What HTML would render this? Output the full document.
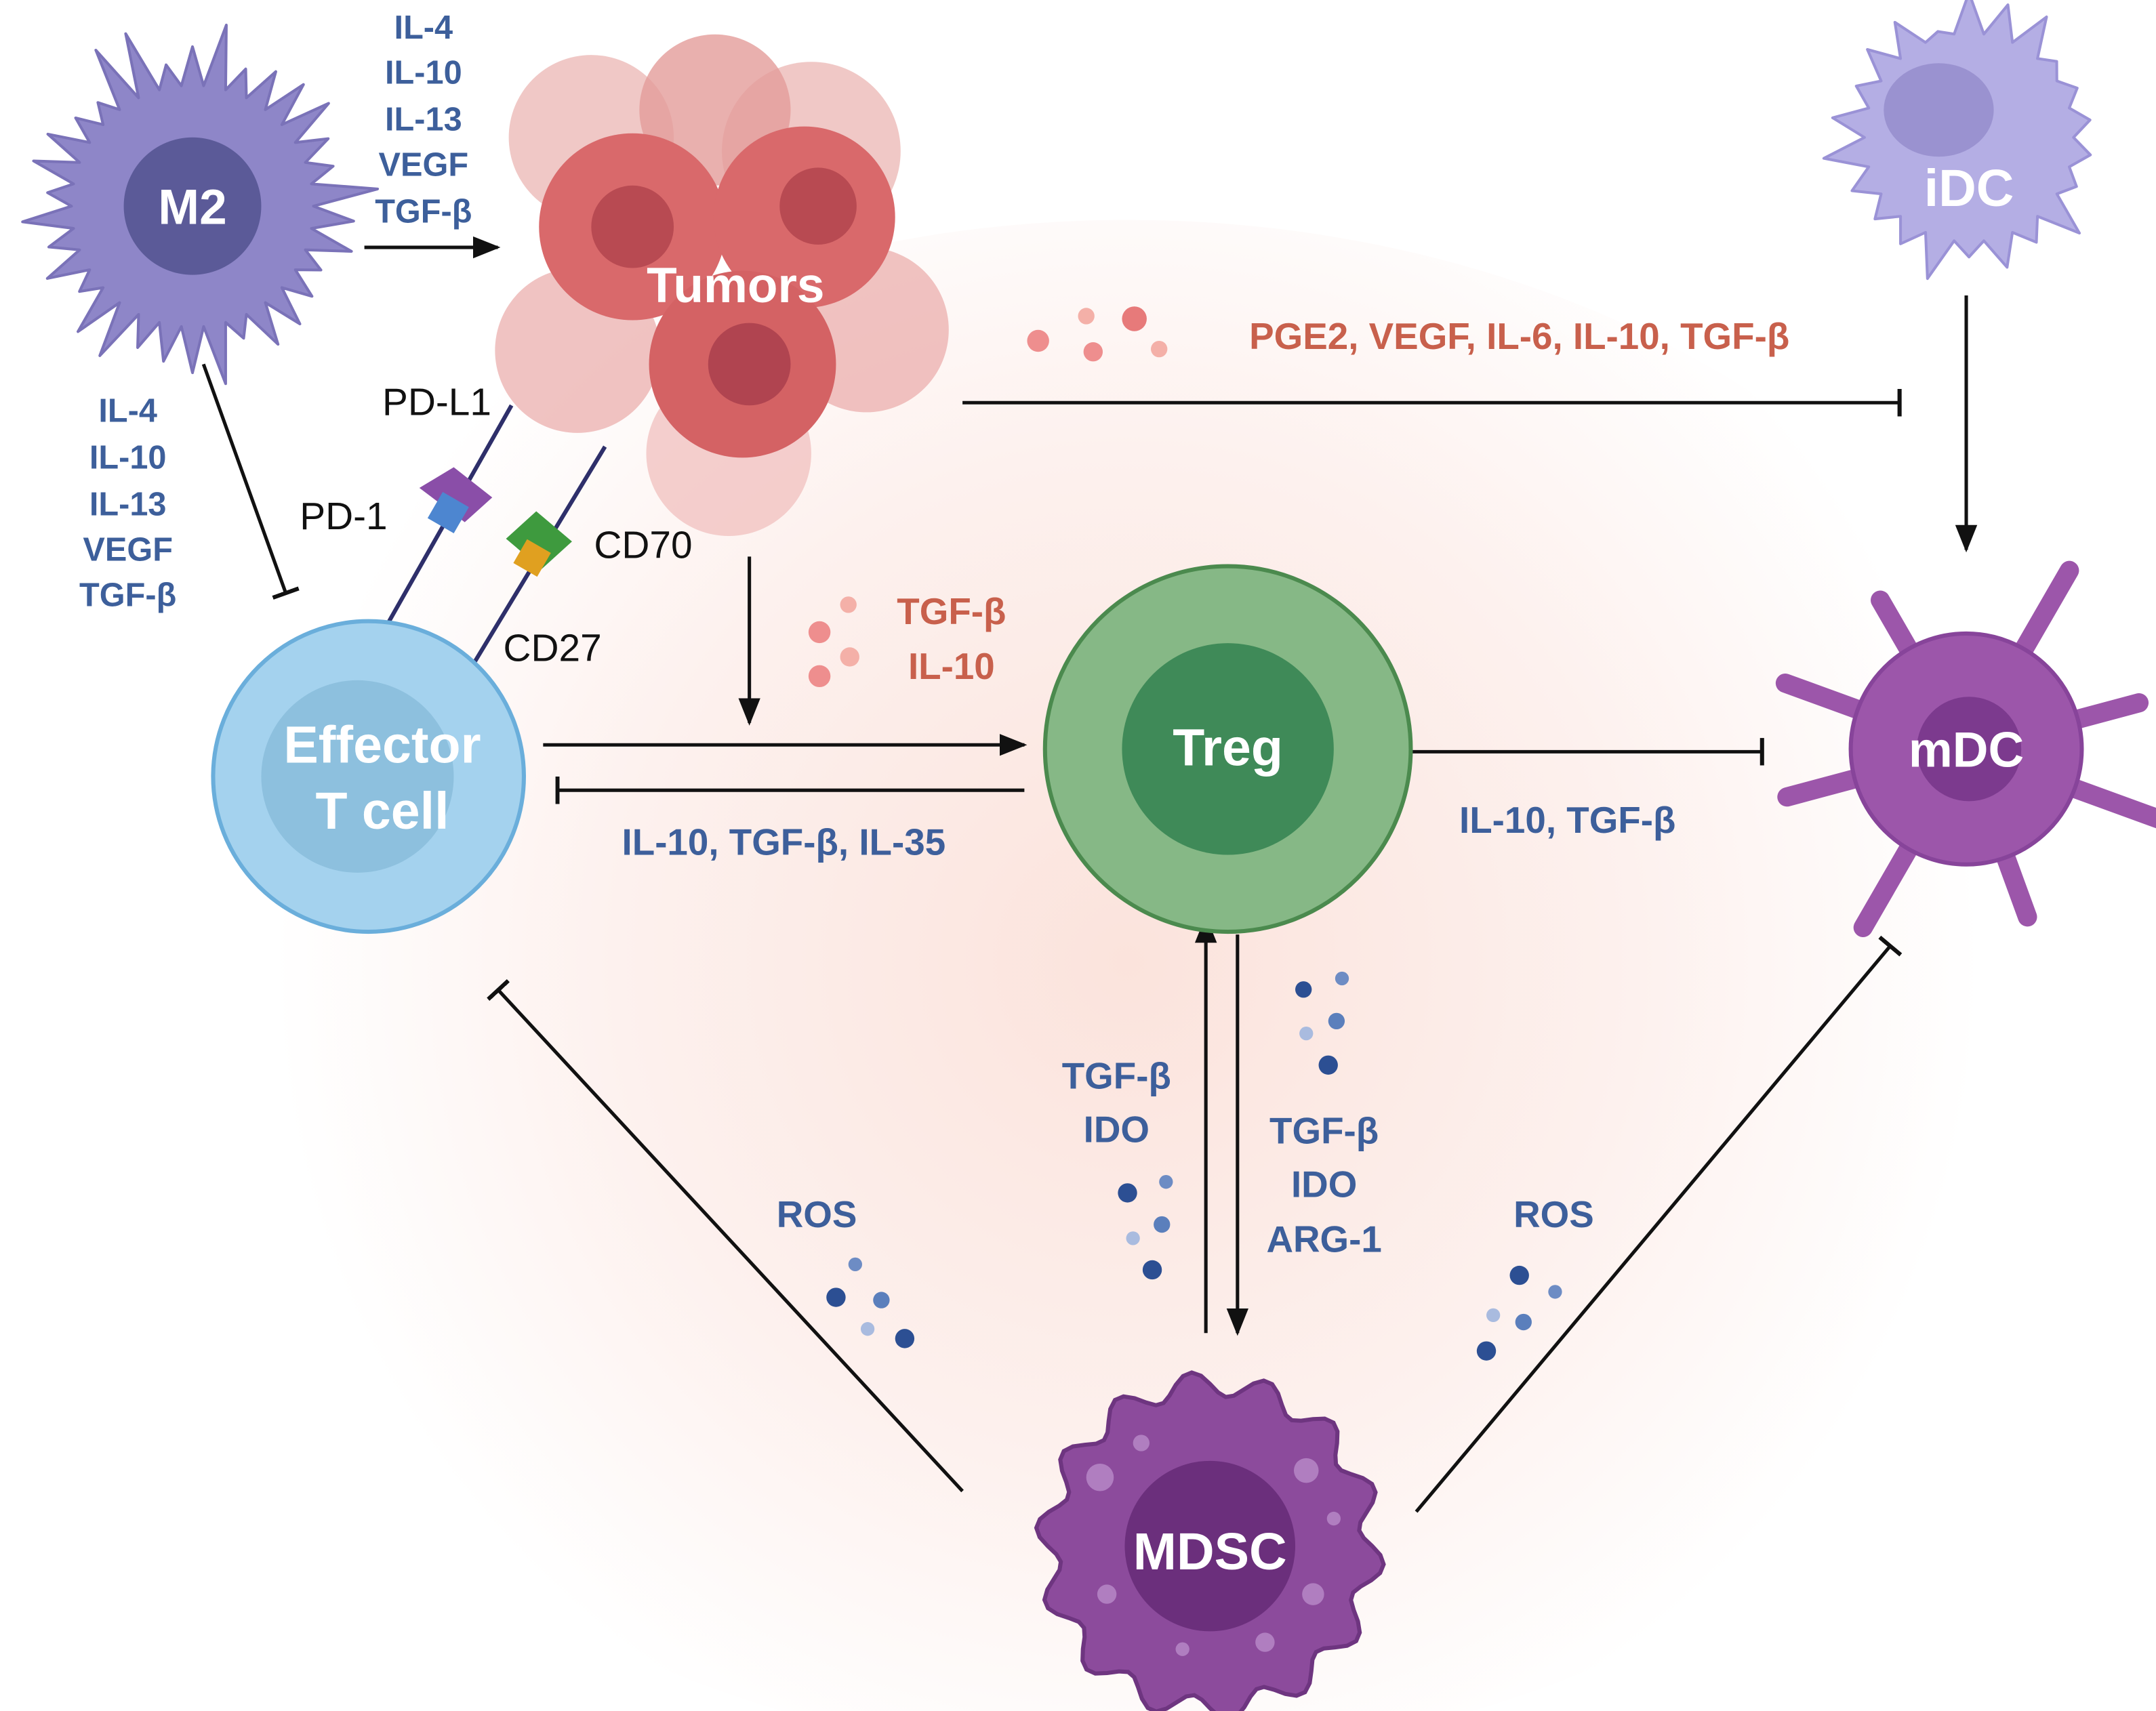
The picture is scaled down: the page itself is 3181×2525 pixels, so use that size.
<!DOCTYPE html>
<html><head><meta charset="utf-8">
<style>
html,body{margin:0;padding:0;background:#fff;}
svg{display:block;}
text{font-family:"Liberation Sans",sans-serif;}
</style></head>
<body>
<svg id="s" width="3181" height="2525" viewBox="0 0 1568 1245" preserveAspectRatio="none" xmlns="http://www.w3.org/2000/svg">
<defs>
<radialGradient id="bg" cx="820" cy="700" r="620" gradientUnits="userSpaceOnUse">
<stop offset="0" stop-color="#fbe3dc"/><stop offset="0.6" stop-color="#fdf1ee"/><stop offset="1" stop-color="#ffffff"/>
</radialGradient>
<marker id="ar2" markerWidth="20" markerHeight="16" refX="18" refY="8" orient="auto" markerUnits="userSpaceOnUse"><path d="M0,0 L20,8 L0,16 z" fill="#111"/></marker>
<marker id="bar" markerWidth="4" markerHeight="20" refX="2" refY="10" orient="auto" markerUnits="userSpaceOnUse"><rect x="0" y="0" width="3" height="20" fill="#111"/></marker>
</defs>
<rect width="1568" height="1245" fill="#fff"/>
<ellipse cx="820" cy="720" rx="720" ry="560" fill="url(#bg)"/>
<g id="cells"></g>

<!-- tumors -->
<g>
<circle cx="430" cy="100" r="60" fill="#eab0ae" opacity="0.7"/>
<circle cx="590" cy="110" r="65" fill="#eab0ae" opacity="0.7"/>
<circle cx="520" cy="80" r="55" fill="#e49c9a" opacity="0.8"/>
<circle cx="420" cy="255" r="60" fill="#e9aaa8" opacity="0.7"/>
<circle cx="630" cy="240" r="60" fill="#e9aaa8" opacity="0.7"/>
<circle cx="530" cy="330" r="60" fill="#efbcba" opacity="0.7"/>
<circle cx="460" cy="165" r="68" fill="#d9696b"/>
<circle cx="460" cy="165" r="30" fill="#b84a52"/>
<circle cx="585" cy="158" r="66" fill="#d9696b"/>
<circle cx="595" cy="150" r="28" fill="#b84a52"/>
<circle cx="540" cy="265" r="68" fill="#d46264"/>
<circle cx="545" cy="265" r="30" fill="#b04450"/>
<text x="535" y="220" font-size="36" font-weight="bold" fill="#fff" text-anchor="middle">Tumors</text>
</g>

<!-- lines -->
<g stroke="#111" stroke-width="2.5" fill="none">
<line x1="265" y1="180" x2="362" y2="180" marker-end="url(#ar2)"/>
<line x1="148" y1="265" x2="208" y2="432" marker-end="url(#bar)"/>
<line x1="395" y1="542" x2="745" y2="542" marker-end="url(#ar2)"/>
<line x1="745" y1="575" x2="405" y2="575" marker-end="url(#bar)"/>
<line x1="545" y1="405" x2="545" y2="526" marker-end="url(#ar2)"/>
<line x1="700" y1="293" x2="1382" y2="293" marker-end="url(#bar)"/>
<line x1="1430" y1="215" x2="1430" y2="400" marker-end="url(#ar2)"/>
<line x1="1015" y1="547" x2="1282" y2="547" marker-end="url(#bar)"/>
<line x1="877" y1="970" x2="877" y2="668" marker-end="url(#ar2)"/>
<line x1="900" y1="680" x2="900" y2="970" marker-end="url(#ar2)"/>
<line x1="700" y1="1085" x2="362" y2="720" marker-end="url(#bar)"/>
<line x1="1030" y1="1100" x2="1375" y2="688" marker-end="url(#bar)"/>
</g>
<g stroke="#2e2f6a" stroke-width="3">
<line x1="372" y1="295" x2="283" y2="452"/>
<line x1="440" y1="325" x2="345" y2="482"/>
</g>
<!-- receptors -->
<g>
<path d="M305,355 l25,-15 l28,22 l-20,18 z" fill="#8a4ea8"/>
<rect x="315" y="362" width="22" height="22" fill="#4d86d0" transform="rotate(30 326 373)"/>
<path d="M368,392 l22,-20 l26,22 l-22,20 z" fill="#3e9a3e"/>
<rect x="377" y="396" width="20" height="20" fill="#e0a020" transform="rotate(30 387 406)"/>
</g>

<!-- effector -->
<circle cx="268" cy="565" r="113" fill="#a4d2ee" stroke="#6aaedb" stroke-width="3"/>
<circle cx="260" cy="565" r="70" fill="#8dc0de"/>
<text x="278" y="555" font-size="38" font-weight="bold" fill="#fff" text-anchor="middle">Effector</text>
<text x="278" y="603" font-size="38" font-weight="bold" fill="#fff" text-anchor="middle">T cell</text>
<!-- treg -->
<circle cx="893" cy="545" r="133" fill="#86b886" stroke="#4b8a4e" stroke-width="3"/>
<circle cx="893" cy="545" r="77" fill="#3f8a58"/>
<text x="893" y="557" font-size="38" font-weight="bold" fill="#fff" text-anchor="middle">Treg</text>

<!-- dots -->
<g fill="#ee8e8e">
<circle cx="755" cy="248" r="8"/><circle cx="790" cy="230" r="6" fill="#f4b0a8"/><circle cx="795" cy="256" r="7"/><circle cx="825" cy="232" r="9" fill="#e77a7a"/><circle cx="843" cy="254" r="6" fill="#f4b0a8"/>
<circle cx="617" cy="440" r="6" fill="#f4b0a8"/><circle cx="596" cy="460" r="8"/><circle cx="618" cy="478" r="7" fill="#f4b0a8"/><circle cx="596" cy="492" r="8"/>
</g>
<g fill="#2c4f93">
<circle cx="948" cy="720" r="6"/><circle cx="976" cy="712" r="5" fill="#6d8cc4"/><circle cx="972" cy="743" r="6" fill="#5b7fbc"/><circle cx="950" cy="752" r="5" fill="#a9bbdf"/><circle cx="966" cy="775" r="7"/>
<circle cx="820" cy="868" r="7"/><circle cx="848" cy="860" r="5" fill="#6d8cc4"/><circle cx="845" cy="891" r="6" fill="#5b7fbc"/><circle cx="824" cy="901" r="5" fill="#a9bbdf"/><circle cx="838" cy="924" r="7"/>
<circle cx="622" cy="920" r="5" fill="#6d8cc4"/><circle cx="608" cy="944" r="7"/><circle cx="641" cy="946" r="6" fill="#5b7fbc"/><circle cx="631" cy="967" r="5" fill="#a9bbdf"/><circle cx="658" cy="974" r="7"/>
<circle cx="1105" cy="928" r="7"/><circle cx="1131" cy="940" r="5" fill="#6d8cc4"/><circle cx="1086" cy="957" r="5" fill="#a9bbdf"/><circle cx="1108" cy="962" r="6" fill="#5b7fbc"/><circle cx="1081" cy="983" r="7"/>
</g>

<!-- texts -->
<g font-size="24" font-weight="bold" fill="#3d5f9b" text-anchor="middle">
<text x="308" y="28">IL-4</text><text x="308" y="61">IL-10</text><text x="308" y="95">IL-13</text><text x="308" y="128">VEGF</text><text x="308" y="162">TGF-β</text>
<text x="93" y="307">IL-4</text><text x="93" y="341">IL-10</text><text x="93" y="375">IL-13</text><text x="93" y="408">VEGF</text><text x="93" y="441">TGF-β</text>
</g>
<g font-size="27" font-weight="bold" fill="#3d5f9b" text-anchor="middle">
<text x="570" y="622">IL-10, TGF-β, IL-35</text>
<text x="1140" y="606">IL-10, TGF-β</text>
<text x="812" y="792">TGF-β</text><text x="812" y="831">IDO</text>
<text x="963" y="832">TGF-β</text><text x="963" y="871">IDO</text><text x="963" y="911">ARG-1</text>
<text x="594" y="893">ROS</text><text x="1130" y="893">ROS</text>
</g>
<g font-size="27" font-weight="bold" fill="#c8604c" text-anchor="middle">
<text x="1105" y="254">PGE2, VEGF, IL-6, IL-10, TGF-β</text>
<text x="692" y="454">TGF-β</text><text x="692" y="494">IL-10</text>
</g>
<g font-size="28" fill="#111">
<text x="278" y="302">PD-L1</text><text x="218" y="385">PD-1</text><text x="432" y="406">CD70</text><text x="366" y="481">CD27</text>
</g>
</svg>
<script>
var g=document.getElementById('cells'),NS='http://www.w3.org/2000/svg';
function el(t,a){var e=document.createElementNS(NS,t);for(var k in a)e.setAttribute(k,a[k]);g.appendChild(e);return e;}
function spiky(cx,cy,r,R,n,seed){var d='',s=seed;function rnd(){s=(s*9301+49297)%233280;return s/233280;}
for(var i=0;i<n;i++){var a0=i/n*Math.PI*2,a1=(i+0.5)/n*Math.PI*2,RR=R*(0.85+0.3*rnd());
var p0=[cx+r*Math.cos(a0),cy+r*Math.sin(a0)],p1=[cx+RR*Math.cos(a1),cy+RR*Math.sin(a1)];
d+=(i?'L':'M')+p0[0].toFixed(1)+','+p0[1].toFixed(1)+'L'+p1[0].toFixed(1)+','+p1[1].toFixed(1);}return d+'Z';}
function bumpy(cx,cy,r,n,amp){var d='';for(var i=0;i<=120;i++){var a=i/120*Math.PI*2,rr=r+amp*Math.sin(a*n);d+=(i?'L':'M')+(cx+rr*Math.cos(a)).toFixed(1)+','+(cy+rr*Math.sin(a)).toFixed(1);}return d+'Z';}
// M2
el('path',{d:spiky(140,150,88,118,34,7),fill:'#8e86c8',stroke:'#7a72b8','stroke-width':2,'stroke-linejoin':'round'});
el('circle',{cx:140,cy:150,r:50,fill:'#5b5a98'});
var t=el('text',{x:140,y:163,'font-size':36,'font-weight':'bold',fill:'#fff','text-anchor':'middle'});t.textContent='M2';
// iDC
el('path',{d:spiky(1432,100,76,94,22,3),fill:'#b4aee4',stroke:'#9a92d6','stroke-width':2,'stroke-linejoin':'round'});
el('ellipse',{cx:1410,cy:80,rx:40,ry:34,fill:'#9a92d0'});
t=el('text',{x:1432,y:150,'font-size':38,'font-weight':'bold',fill:'#fff','text-anchor':'middle'});t.textContent='iDC';
// mDC tentacles
[[-160,140],[-120,125],[-60,150],[-15,130],[20,150],[70,130],[120,150],[165,135]].forEach(function(p){
 var a=p[0]*Math.PI/180,L=p[1];
 el('line',{x1:1430,y1:545,x2:(1430+L*Math.cos(a)).toFixed(1),y2:(545+L*Math.sin(a)).toFixed(1),stroke:'#9c56aa','stroke-width':14,'stroke-linecap':'round'});
});
el('circle',{cx:1430,cy:545,r:84,fill:'#9c56aa',stroke:'#87449a','stroke-width':3});
el('circle',{cx:1432,cy:545,r:38,fill:'#7c3a8e'});
t=el('text',{x:1430,y:558,'font-size':36,'font-weight':'bold',fill:'#fff','text-anchor':'middle'});t.textContent='mDC';
// MDSC
el('path',{d:bumpy(880,1125,118,14,9),fill:'#8c4b9c',stroke:'#6e3580','stroke-width':3});
el('circle',{cx:880,cy:1125,r:62,fill:'#6b2f7c'});
[[800,1075,10],[830,1050,6],[950,1070,9],[970,1105,5],[805,1160,7],[955,1160,8],[860,1200,5],[920,1195,7]].forEach(function(c){el('circle',{cx:c[0],cy:c[1],r:c[2],fill:'#b07ec0'});});
t=el('text',{x:880,y:1142,'font-size':38,'font-weight':'bold',fill:'#fff','text-anchor':'middle'});t.textContent='MDSC';
</script>
</body></html>
